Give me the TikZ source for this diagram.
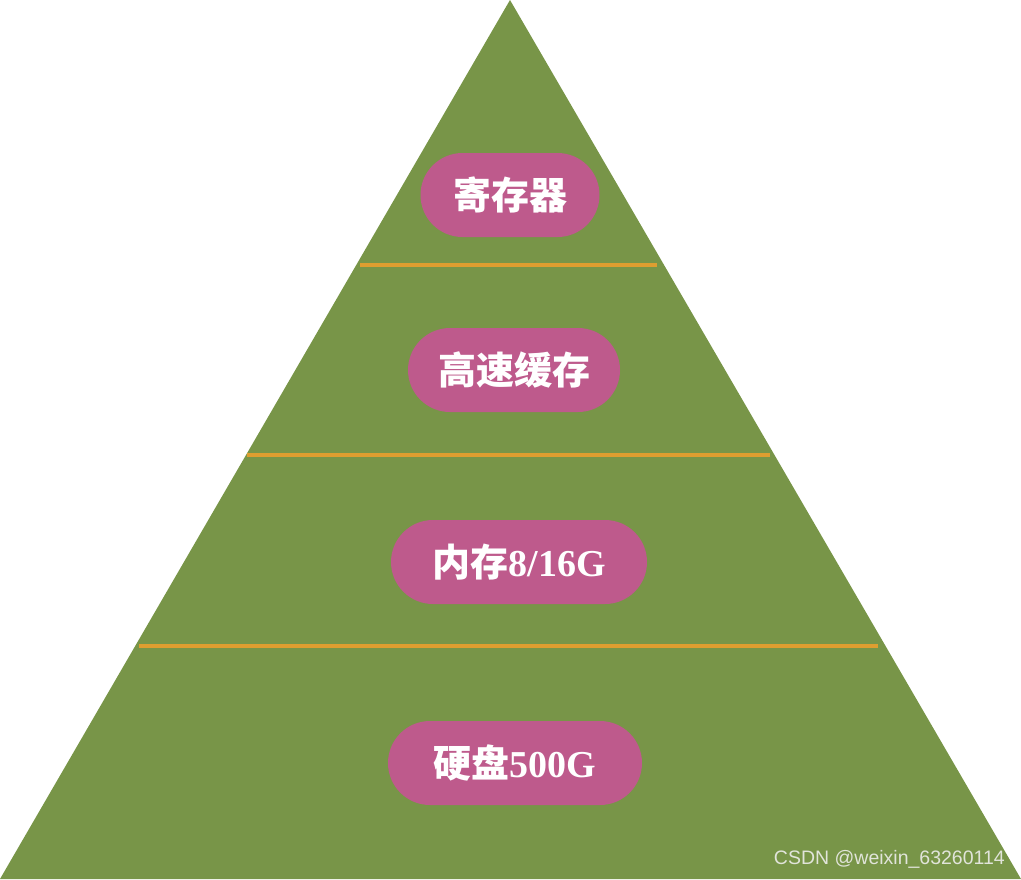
\documentclass[tikz,border=0pt]{standalone}
\usepackage{fontspec}
\setmainfont{Liberation Serif}
\setsansfont{Liberation Sans}
\newfontfamily\cjk{Noto Sans CJK SC}
\definecolor{pygreen}{RGB}{120,149,72}
\definecolor{pypink}{RGB}{190,90,140}
\definecolor{pyorange}{RGB}{222,158,48}
\definecolor{pymark}{RGB}{225,228,218}
\usetikzlibrary{shapes.misc}

\begin{document}
\begin{tikzpicture}[x=1pt, y=-1pt,
  level/.style={rounded rectangle, fill=pypink, text=white,
                minimum height=84pt, inner sep=0pt,
                font=\fontsize{38}{42}\selectfont\bfseries},
  sep/.style={draw=pyorange, line width=4.5pt}
]
\useasboundingbox (0,0) rectangle (1021,879);

% Pyramid
\fill[pygreen] (0,879) -- (510,0) -- (1021,879) -- cycle;

% Separators
\coordinate (s1l) at (360,265); \coordinate (s1r) at (657,265);
\coordinate (s2l) at (247,455); \coordinate (s2r) at (770,455);
\coordinate (s3l) at (139,646); \coordinate (s3r) at (878,646);
\draw[sep] (s1l) -- (s1r);
\draw[sep] (s2l) -- (s2r);
\draw[sep] (s3l) -- (s3r);

% Levels
\node[level, minimum width=179pt] (reg)   at (510,195) {{\cjk 寄存器}};
\node[level, minimum width=212pt] (cache) at (514,370) {{\cjk 高速缓存}};
\node[level, minimum width=256pt] (mem)   at (519,562) {{\cjk 内存}8/16G};
\node[level, minimum width=254pt] (disk)  at (515,763) {{\cjk 硬盘}500G};

% Watermark
\node[anchor=east, text=pymark, font=\sffamily\fontsize{19.5}{22}\selectfont,
      inner sep=0pt] (mark) at (1005,859) {CSDN @weixin\_63260114};
\end{tikzpicture}
\end{document}
